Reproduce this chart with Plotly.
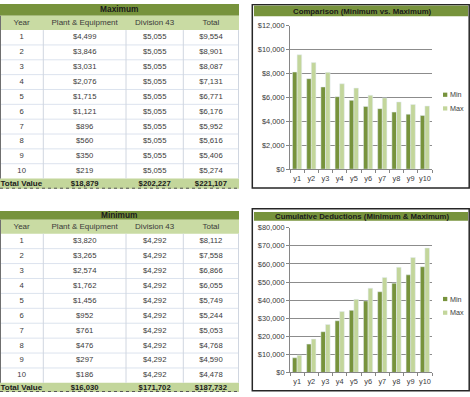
import plotly.graph_objects as go

W, H = 470, 397

# ---------------- data ----------------
years = [1, 2, 3, 4, 5, 6, 7, 8, 9, 10]
col_headers = ["Year", "Plant & Equipment", "Division 43", "Total"]

max_pe = [4499, 3846, 3031, 2076, 1715, 1121, 896, 560, 350, 219]
max_div = [5055, 5055, 5055, 5055, 5055, 5055, 5055, 5055, 5055, 5055]
max_total = [9554, 8901, 8087, 7131, 6771, 6176, 5952, 5616, 5406, 5274]
max_sums = [18879, 202227, 221107]

min_pe = [3820, 3265, 2574, 1762, 1456, 952, 761, 476, 297, 186]
min_div = [4292, 4292, 4292, 4292, 4292, 4292, 4292, 4292, 4292, 4292]
min_total = [8112, 7558, 6866, 6055, 5749, 5244, 5053, 4768, 4590, 4478]
min_sums = [16030, 171702, 187732]

chart_cats = ["y1", "y2", "y3", "y4", "y5", "y6", "y7", "y8", "y9", "y10"]
cum_min = [8112, 15670, 22536, 28591, 34340, 39584, 44637, 49405, 53995, 58473]
cum_max = [9554, 18455, 26542, 33673, 40444, 46620, 52572, 58188, 63594, 68868]

# ---------------- style ----------------
FONT = "Liberation Sans"
DARK = "#77933C"
LIGHT = "#C3D69B"
HEAD = "#C9DBA3"
ROWLINE = "#DCE3EE"
COLLINE = "#D0D6E0"
TXT = "#3A3A3A"
BLK = "#1a1a1a"

COL_EDGES = [0, 43.3, 126, 183.3, 238.5]
COL_CENTERS = [(COL_EDGES[i] + COL_EDGES[i + 1]) / 2 for i in range(4)]

TABLE_LAYOUTS = [
    dict(title_y0=0, title_y1=12, head_y1=26.7, row1=34.3, row_h=15.19, tot_y0=178.6, tot_y1=189),
    dict(title_y0=211.7, title_y1=220.7, head_y1=235.0, row1=242.7, row_h=15.26, tot_y0=387.6, tot_y1=397),
]

def money(v):
    return "${:,}".format(v)

fig = go.Figure()
shapes = []
annotations = []

def rect(x0, y0, x1, y1, fill, layer="below", line=None):
    shapes.append(dict(type="rect", xref="x3", yref="y3", x0=x0, x1=x1, y0=y0, y1=y1,
                       fillcolor=fill, line=line or dict(width=0), layer=layer))

def hline(x0, x1, y, color, width=1, dash="solid"):
    shapes.append(dict(type="line", xref="x3", yref="y3", x0=x0, x1=x1, y0=y, y1=y,
                       line=dict(color=color, width=width, dash=dash), layer="below"))

def vline(x, y0, y1, color, width=1):
    shapes.append(dict(type="line", xref="x3", yref="y3", x0=x, x1=x, y0=y0, y1=y1,
                       line=dict(color=color, width=width), layer="below"))

def text_trace(xs, ys, texts, size, color, bold=False, pos="middle center"):
    fig.add_trace(go.Scatter(
        x=xs, y=ys, text=texts, mode="text", textposition=pos,
        textfont=dict(family=FONT, size=size, color=color, weight="bold" if bold else "normal"),
        xaxis="x3", yaxis="y3", hoverinfo="skip", showlegend=False, cliponaxis=False))

def add_table(lay, title, pe, div, tot, sums):
    t0, t1 = lay["title_y0"], lay["title_y1"]
    h1 = lay["head_y1"]
    r1, rh = lay["row1"], lay["row_h"]
    a0, a1 = lay["tot_y0"], lay["tot_y1"]
    right = COL_EDGES[-1]
    rect(0, t0, right + 0.5, t1, DARK)
    rect(0, t1, right + 0.5, h1, HEAD)
    rect(0, a0, right + 0.5, a1, LIGHT)
    for k in range(1, len(years)):
        hline(0, right, r1 - rh / 2 + k * rh, ROWLINE)
    for x in COL_EDGES[1:-1]:
        vline(x, h1, a0, COLLINE)
    vline(right, h1, a0, COLLINE)
    vline(0.5, t1, a0, "#6F6F6F")
    hline(0, right + 0.5, a1 - 0.5, "#555555", 1, "dot")
    text_trace([right / 2], [(t0 + t1) / 2 + 0.3], [title], 8.3, BLK, bold=True)
    text_trace(COL_CENTERS, [(t1 + h1) / 2 + 0.3] * 4, col_headers, 8, TXT)
    row_y = [r1 + i * rh for i in range(len(years))]
    cols = [[str(y) for y in years], [money(v) for v in pe],
            [money(v) for v in div], [money(v) for v in tot]]
    xs, ys, ts = [], [], []
    for c, vals in enumerate(cols):
        for r, v in enumerate(vals):
            xs.append(COL_CENTERS[c]); ys.append(row_y[r]); ts.append(v)
    text_trace(xs, ys, ts, 7.7, TXT)
    ty = (a0 + a1) / 2 + 0.3
    text_trace([0.5], [ty], ["Total Value"], 8, BLK, bold=True, pos="middle right")
    text_trace(COL_CENTERS[1:], [ty] * 3, [money(v) for v in sums], 7.7, BLK, bold=True)

add_table(TABLE_LAYOUTS[0], "Maximum", max_pe, max_div, max_total, max_sums)
add_table(TABLE_LAYOUTS[1], "Minimum", min_pe, min_div, min_total, min_sums)

# ---------------- charts ----------------
fig.add_trace(go.Bar(x=chart_cats, y=min_total, name="Min", marker_color=DARK,
                     xaxis="x", yaxis="y", showlegend=False))
fig.add_trace(go.Bar(x=chart_cats, y=max_total, name="Max", marker_color=LIGHT,
                     xaxis="x", yaxis="y", showlegend=False))
fig.add_trace(go.Bar(x=chart_cats, y=cum_min, name="Min", marker_color=DARK,
                     xaxis="x2", yaxis="y2", showlegend=False))
fig.add_trace(go.Bar(x=chart_cats, y=cum_max, name="Max", marker_color=LIGHT,
                     xaxis="x2", yaxis="y2", showlegend=False))

axfont = dict(family=FONT, size=7.4, color=TXT)
xcommon = dict(domain=[290 / W, 432 / W], type="category",
               showline=True, linecolor="#868686", linewidth=1,
               ticks="outside", tickson="boundaries", ticklen=3, tickcolor="#868686",
               tickfont=axfont, tickangle=0, showgrid=False, fixedrange=True,
               ticklabelstandoff=2)
ycommon = dict(showline=True, linecolor="#868686", linewidth=1,
               ticks="outside", ticklen=3, tickcolor="#868686",
               showgrid=True, gridcolor="#8C8C8C", gridwidth=1,
               tickprefix="$", tickformat=",", tickfont=axfont,
               zeroline=False, fixedrange=True)

fig.update_layout(
    xaxis=dict(anchor="y", **xcommon),
    yaxis=dict(anchor="x", domain=[1 - 169 / H, 1 - 22 / H], range=[0, 12000], dtick=2000, **ycommon),
    xaxis2=dict(anchor="y2", **xcommon),
    yaxis2=dict(anchor="x2", domain=[1 - 377 / H, 1 - 229 / H], range=[0, 80000], dtick=10000, **ycommon),
    xaxis3=dict(anchor="y3", domain=[0, 1], range=[0, W], visible=False, fixedrange=True),
    yaxis3=dict(anchor="x3", domain=[0, 1], range=[H, 0], visible=False, fixedrange=True),
)

CHARTS = [
    dict(top=0.5, bottom=188.3, bar0=1.5, bar1=12.5, title="Comparison (Minimum vs. Maximum)",
         leg=[93, 107]),
    dict(top=209.5, bottom=395.7, bar0=212.7, bar1=221.7, title="Cumulative Deductions (Minimum & Maximum)",
         leg=[302, 316]),
]
for ch in CHARTS:
    rect(254, ch["bar0"], 468, ch["bar1"], DARK)
    rect(252.3, ch["top"], 469.2, ch["bottom"], "rgba(0,0,0,0)", layer="above",
         line=dict(color="#262626", width=1.5))
    annotations.append(dict(xref="x3", yref="y3", x=362, y=(ch["bar0"] + ch["bar1"]) / 2 + 0.3,
                            text="<b>%s</b>" % ch["title"], showarrow=False,
                            font=dict(family=FONT, size=7.8, color=BLK),
                            xanchor="center", yanchor="middle"))
    for name, color, y in [("Min", DARK, ch["leg"][0]), ("Max", LIGHT, ch["leg"][1])]:
        rect(443, y - 2.3, 447.3, y + 2.0, color)
        annotations.append(dict(xref="x3", yref="y3", x=448, y=y, text=name, showarrow=False,
                                font=dict(family=FONT, size=7.2, color=TXT),
                                xanchor="left", yanchor="middle"))

fig.update_layout(
    shapes=shapes, annotations=annotations,
    width=W, height=H, margin=dict(l=0, r=0, t=0, b=0),
    paper_bgcolor="white", plot_bgcolor="rgba(0,0,0,0)",
    barmode="group", bargap=0.35, bargroupgap=0.0,
    font=dict(family=FONT), showlegend=False,
)

fig.write_html("out.html", config={"displayModeBar": False},
               post_script="document.body.style.margin='0';document.body.style.overflow='hidden';")
